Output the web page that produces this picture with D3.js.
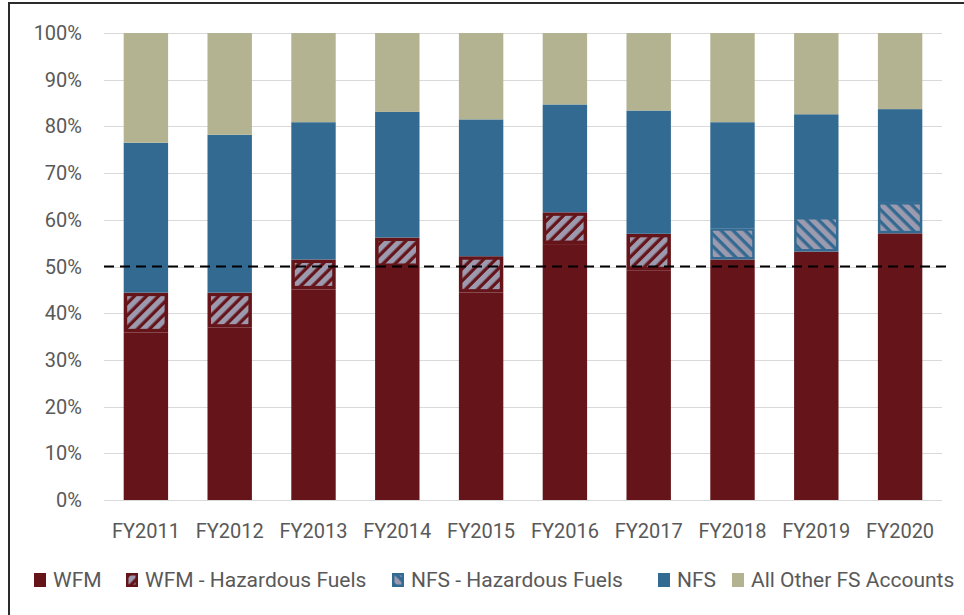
<!DOCTYPE html>
<meta charset="utf-8">
<style>
body { margin: 0; background: #fff; }
text { font-family: Roboto, "Liberation Sans", sans-serif; fill: #595959; }
.grid line { stroke: #d9d9d9; stroke-width: 1; shape-rendering: crispEdges; }
</style>
<svg width="964" height="615"></svg>
<script src="https://cdn.jsdelivr.net/npm/d3@7"></script>
<script>

var years = ["FY2011","FY2012","FY2013","FY2014","FY2015","FY2016","FY2017","FY2018","FY2019","FY2020"];
var wfm      = [35.9, 36.9, 45.1, 49.9, 44.4, 54.8, 49.2, 51.5, 53.2, 57.1];
var wfmHaz   = [8.5, 7.5, 6.4, 6.3, 7.8, 6.8, 7.8, 0, 0, 0];
var nfsHaz   = [0, 0, 0, 0, 0, 0, 0, 6.7, 7.4, 6.7];
var nfs      = [32.1, 33.8, 29.4, 26.9, 29.3, 23.1, 26.4, 22.7, 22.0, 19.9];
var other    = [23.5, 21.8, 19.1, 16.9, 18.5, 15.3, 16.6, 19.1, 17.4, 16.3];
var seriesNames = ["WFM", "WFM - Hazardous Fuels", "NFS - Hazardous Fuels", "NFS", "All Other FS Accounts"];
var yTicks = [0,10,20,30,40,50,60,70,80,90,100];
var refLine = 50;

var svg = d3.select("svg"),
    plotLeft = 104, plotRight = 942, plotTop = 33, plotBottom = 500;

var colors = {
  "WFM": "#65141a",
  "WFM - Hazardous Fuels": "#65141a",
  "NFS - Hazardous Fuels": "#336a92",
  "NFS": "#336a92",
  "All Other FS Accounts": "#b3b392"
};

// hatch patterns
var defs = svg.append("defs");
function hatch(id, bg, angle) {
  var p = defs.append("pattern")
      .attr("id", id)
      .attr("patternUnits", "userSpaceOnUse")
      .attr("width", 8.5).attr("height", 8.5)
      .attr("patternTransform", "rotate(" + angle + ")");
  p.append("rect").attr("width", 8.5).attr("height", 8.5).attr("fill", bg);
  p.append("rect").attr("x", 0).attr("width", 5.2).attr("height", 8.5).attr("fill", "#9c9aae");
}
hatch("hatchWFM", colors["WFM"], 45);
hatch("hatchNFS", colors["NFS"], -45);

var rows = years.map(function(y, i) {
  var r = { year: y };
  r["WFM"] = wfm[i];
  r["WFM - Hazardous Fuels"] = wfmHaz[i];
  r["NFS - Hazardous Fuels"] = nfsHaz[i];
  r["NFS"] = nfs[i];
  r["All Other FS Accounts"] = other[i];
  return r;
});

var stacked = d3.stack().keys(seriesNames)(rows);

var x = d3.scaleBand().domain(years).range([plotLeft, plotRight]).paddingInner(0.47).paddingOuter(0.235);
var y = d3.scaleLinear().domain([0, 100]).range([plotBottom, plotTop]);

// outer frame
svg.append("rect")
    .attr("x", 9).attr("y", 3).attr("width", 1000).attr("height", 700)
    .attr("fill", "none").attr("stroke", "#2b2b2b").attr("stroke-width", 2);

// gridlines
svg.append("g").attr("class", "grid")
  .selectAll("line").data(yTicks).enter().append("line")
    .attr("x1", plotLeft).attr("x2", plotRight)
    .attr("y1", function(d) { return Math.round(y(d)) + 0.5; })
    .attr("y2", function(d) { return Math.round(y(d)) + 0.5; })
    .style("stroke-width", function(d) { return d === 0 ? 1.5 : 1; });

// y axis labels
svg.append("g").selectAll("text").data(yTicks).enter().append("text")
    .attr("x", 82).attr("y", function(d) { return y(d); })
    .attr("dy", "0.35em")
    .attr("text-anchor", "end")
    .style("font-size", "20px")
    .text(function(d) { return d + "%"; });

// x axis labels
svg.append("g").selectAll("text").data(years).enter().append("text")
    .attr("x", function(d) { return x(d) + x.bandwidth() / 2; })
    .attr("y", 538)
    .attr("text-anchor", "middle")
    .style("font-size", "20px")
    .text(function(d) { return d; });

// bars
stacked.forEach(function(s) {
  var key = s.key;
  var inset = key === "NFS - Hazardous Fuels" ? 2.5 : 3.5;
  var g = svg.append("g");
  var segs = g.selectAll("g").data(s.filter(function(d) { return d[1] - d[0] > 0; })).enter().append("g");
  segs.append("rect")
      .attr("x", function(d) { return x(d.data.year); })
      .attr("y", function(d) { return y(d[1]); })
      .attr("width", x.bandwidth())
      .attr("height", function(d) { return y(d[0]) - y(d[1]); })
      .attr("fill", colors[key]);
  if (key === "WFM - Hazardous Fuels" || key === "NFS - Hazardous Fuels") {
    var pid = key === "WFM - Hazardous Fuels" ? "hatchWFM" : "hatchNFS";
    segs.append("rect")
        .attr("x", function(d) { return x(d.data.year) + inset; })
        .attr("y", function(d) { return y(d[1]) + inset; })
        .attr("width", x.bandwidth() - 2 * inset)
        .attr("height", function(d) { return y(d[0]) - y(d[1]) - 2 * inset; })
        .attr("fill", "url(#" + pid + ")");
  }
});

// 50% reference line
svg.append("line")
    .attr("x1", plotLeft).attr("x2", 948)
    .attr("y1", y(refLine)).attr("y2", y(refLine))
    .attr("stroke", "#000").attr("stroke-width", 2)
    .attr("stroke-dasharray", "10,6");

// legend
var legendX = [34, 126, 392, 658, 732];
var legend = svg.append("g").selectAll("g").data(seriesNames).enter().append("g")
    .attr("transform", function(d, i) { return "translate(" + legendX[i] + ",580)"; });
legend.append("rect")
    .attr("x", 0).attr("y", -7).attr("width", 12).attr("height", 14)
    .attr("fill", function(d) { return colors[d]; });
legend.filter(function(d) { return d.indexOf("Hazardous") >= 0; })
  .append("rect")
    .attr("x", 2.5).attr("y", -4.5).attr("width", 7).attr("height", 9)
    .attr("fill", function(d) { return d.indexOf("WFM") === 0 ? "url(#hatchWFM)" : "url(#hatchNFS)"; });
legend.append("text")
    .attr("x", 19).attr("y", 0).attr("dy", "0.35em")
    .style("font-size", "21px")
    .text(function(d) { return d; });

</script>
